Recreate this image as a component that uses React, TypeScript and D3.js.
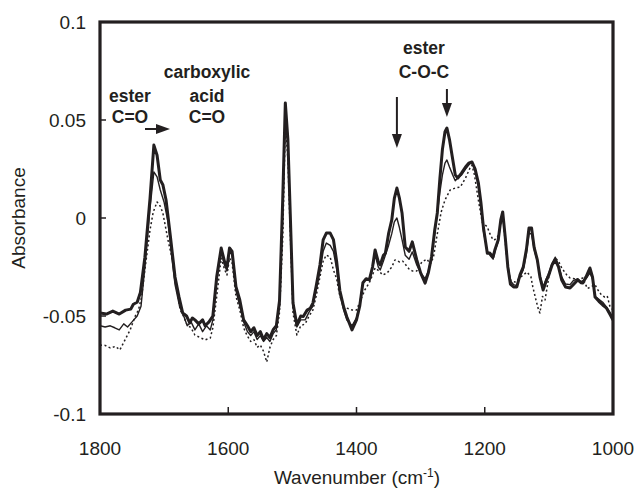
import React from "react";
import * as d3 from "d3";

const xTicks = [1800, 1600, 1400, 1200, 1000];
const yTicks = [0.1, 0.05, 0, -0.05, -0.1];
const yTickLabels = ["0.1", "0.05", "0", "-0.05", "-0.1"];

const seriesThick: [number, number][] = [[1800,-0.0485],[1790,-0.049],[1780,-0.0475],[1770,-0.049],[1760,-0.047],[1752,-0.0465],[1748,-0.044],[1742,-0.043],[1737,-0.038],[1730,-0.02],[1722,0.01],[1716,0.0372],[1711,0.032],[1706,0.0194],[1702,0.017],[1697,0.0092],[1690,-0.01],[1683,-0.0301],[1677,-0.04],[1671,-0.0485],[1665,-0.05],[1660,-0.0535],[1656,-0.051],[1652,-0.052],[1646,-0.054],[1640,-0.052],[1636,-0.055],[1630,-0.053],[1624,-0.05],[1618,-0.03],[1611,-0.0153],[1606,-0.022],[1602,-0.025],[1598,-0.0153],[1594,-0.017],[1588,-0.035],[1582,-0.0418],[1576,-0.052],[1570,-0.055],[1565,-0.058],[1560,-0.056],[1555,-0.06],[1550,-0.058],[1545,-0.062],[1540,-0.059],[1535,-0.061],[1530,-0.057],[1525,-0.055],[1520,-0.042],[1515,0.01],[1511,0.0587],[1507,0.04],[1503,-0.001],[1499,-0.0434],[1493,-0.0546],[1487,-0.05],[1483,-0.0503],[1477,-0.047],[1472,-0.046],[1468,-0.0434],[1463,-0.035],[1457,-0.024],[1452,-0.0112],[1447,-0.0077],[1441,-0.0077],[1436,-0.011],[1431,-0.022],[1426,-0.037],[1420,-0.0454],[1415,-0.0505],[1407,-0.0571],[1400,-0.052],[1395,-0.045],[1390,-0.033],[1385,-0.031],[1380,-0.0316],[1375,-0.025],[1371,-0.0163],[1366,-0.0224],[1363,-0.024],[1358,-0.019],[1355,-0.018],[1350,-0.008],[1345,-0.001],[1341,0.01],[1337,0.0153],[1333,0.01],[1329,0.0026],[1324,-0.0148],[1318,-0.017],[1313,-0.0122],[1306,-0.0214],[1300,-0.028],[1293,-0.0332],[1288,-0.028],[1283,-0.0199],[1278,-0.0061],[1274,0.0026],[1270,0.02],[1266,0.035],[1262,0.044],[1259,0.0459],[1255,0.04],[1250,0.03],[1246,0.022],[1242,0.0204],[1236,0.023],[1230,0.026],[1225,0.028],[1220,0.0286],[1215,0.025],[1210,0.018],[1206,0.008],[1202,-0.005],[1196,-0.018],[1192,-0.0179],[1187,-0.0199],[1184,-0.016],[1179,-0.0112],[1175,-0.001],[1172,0.0031],[1168,-0.01],[1164,-0.025],[1160,-0.0337],[1155,-0.0352],[1150,-0.0352],[1145,-0.029],[1140,-0.0251],[1135,-0.016],[1131,-0.0051],[1127,-0.0051],[1123,-0.015],[1118,-0.0214],[1114,-0.03],[1109,-0.0367],[1104,-0.032],[1100,-0.029],[1095,-0.024],[1090,-0.0214],[1085,-0.025],[1080,-0.0316],[1074,-0.0352],[1067,-0.0357],[1062,-0.034],[1055,-0.0316],[1050,-0.033],[1047,-0.0332],[1042,-0.03],[1036,-0.0255],[1032,-0.03],[1028,-0.0403],[1022,-0.0425],[1016,-0.0444],[1010,-0.046],[1005,-0.049],[1000,-0.052]];

const seriesThin: [number, number][] = [[1800,-0.055],[1792,-0.0556],[1784,-0.055],[1777,-0.056],[1770,-0.0571],[1763,-0.054],[1757,-0.0556],[1750,-0.053],[1742,-0.05],[1736,-0.045],[1730,-0.025],[1722,0.005],[1716,0.0235],[1711,0.021],[1706,0.0143],[1700,0.008],[1694,-0.002],[1688,-0.02],[1683,-0.034],[1676,-0.045],[1670,-0.0495],[1664,-0.055],[1658,-0.053],[1652,-0.0571],[1646,-0.054],[1640,-0.058],[1634,-0.055],[1628,-0.0571],[1624,-0.052],[1618,-0.032],[1611,-0.017],[1606,-0.024],[1602,-0.027],[1598,-0.017],[1594,-0.019],[1588,-0.037],[1582,-0.045],[1576,-0.053],[1570,-0.058],[1565,-0.06],[1560,-0.058],[1555,-0.062],[1550,-0.06],[1545,-0.063],[1540,-0.061],[1535,-0.063],[1530,-0.059],[1525,-0.057],[1520,-0.045],[1515,0.0],[1511,0.054],[1507,0.036],[1503,-0.005],[1499,-0.045],[1493,-0.0556],[1487,-0.052],[1480,-0.052],[1474,-0.048],[1468,-0.045],[1463,-0.037],[1457,-0.0273],[1452,-0.017],[1447,-0.0128],[1441,-0.014],[1436,-0.017],[1431,-0.026],[1426,-0.039],[1420,-0.047],[1415,-0.052],[1407,-0.055],[1400,-0.051],[1395,-0.044],[1390,-0.033],[1385,-0.031],[1380,-0.031],[1375,-0.026],[1371,-0.0189],[1366,-0.025],[1363,-0.0265],[1358,-0.022],[1350,-0.014],[1345,-0.008],[1341,-0.002],[1337,0.0],[1333,-0.005],[1329,-0.011],[1324,-0.019],[1318,-0.021],[1313,-0.0173],[1306,-0.024],[1300,-0.028],[1293,-0.031],[1288,-0.027],[1283,-0.02],[1278,-0.008],[1274,0.002],[1270,0.013],[1266,0.022],[1262,0.028],[1259,0.0296],[1255,0.026],[1250,0.022],[1246,0.019],[1242,0.0204],[1236,0.022],[1230,0.025],[1225,0.027],[1220,0.0286],[1215,0.024],[1210,0.016],[1206,0.005],[1202,-0.007],[1196,-0.017],[1192,-0.019],[1187,-0.021],[1184,-0.017],[1179,-0.012],[1175,-0.002],[1172,0.002],[1168,-0.01],[1164,-0.024],[1160,-0.032],[1155,-0.034],[1150,-0.0345],[1145,-0.03],[1140,-0.0265],[1135,-0.018],[1131,-0.008],[1127,-0.008],[1123,-0.016],[1118,-0.022],[1114,-0.029],[1109,-0.0352],[1104,-0.031],[1100,-0.028],[1095,-0.023],[1090,-0.02],[1085,-0.024],[1080,-0.03],[1074,-0.0337],[1067,-0.034],[1062,-0.032],[1055,-0.031],[1050,-0.0325],[1047,-0.032],[1042,-0.031],[1036,-0.028],[1032,-0.031],[1028,-0.04],[1022,-0.0415],[1016,-0.043],[1010,-0.0455],[1005,-0.048],[1000,-0.051]];

const seriesDotted: [number, number][] = [[1800,-0.0648],[1792,-0.065],[1784,-0.0663],[1776,-0.0655],[1769,-0.0673],[1761,-0.0622],[1753,-0.0571],[1745,-0.05],[1740,-0.0469],[1735,-0.04],[1730,-0.0265],[1722,-0.0061],[1717,0.003],[1711,0.0082],[1706,0.006],[1702,0.0026],[1694,-0.0112],[1688,-0.02],[1683,-0.0291],[1675,-0.0469],[1670,-0.05],[1664,-0.0546],[1658,-0.056],[1652,-0.0597],[1644,-0.061],[1636,-0.0622],[1628,-0.0612],[1624,-0.056],[1618,-0.04],[1611,-0.0204],[1606,-0.026],[1602,-0.0291],[1598,-0.0204],[1594,-0.023],[1588,-0.04],[1582,-0.0469],[1576,-0.056],[1571,-0.0597],[1565,-0.063],[1560,-0.062],[1555,-0.066],[1550,-0.0648],[1545,-0.068],[1540,-0.0735],[1535,-0.066],[1530,-0.062],[1525,-0.06],[1520,-0.048],[1515,-0.01],[1511,0.048],[1507,0.03],[1503,-0.01],[1499,-0.0485],[1493,-0.0597],[1487,-0.055],[1480,-0.054],[1474,-0.05],[1468,-0.047],[1463,-0.04],[1457,-0.03],[1452,-0.022],[1447,-0.0189],[1441,-0.02],[1436,-0.0265],[1431,-0.031],[1426,-0.04],[1420,-0.045],[1415,-0.046],[1407,-0.0469],[1400,-0.047],[1395,-0.043],[1387,-0.0367],[1380,-0.033],[1375,-0.0291],[1371,-0.0255],[1365,-0.027],[1359,-0.0291],[1352,-0.028],[1345,-0.025],[1340,-0.0214],[1333,-0.0224],[1328,-0.022],[1323,-0.024],[1317,-0.0265],[1313,-0.027],[1306,-0.027],[1298,-0.0224],[1290,-0.021],[1285,-0.0235],[1280,-0.02],[1275,-0.01],[1268,0.003],[1262,0.0092],[1254,0.0143],[1246,0.0153],[1238,0.0158],[1230,0.0204],[1223,0.0255],[1220,0.027],[1216,0.0219],[1210,0.0092],[1204,-0.002],[1196,-0.0046],[1192,-0.008],[1187,-0.0112],[1184,-0.011],[1179,-0.009],[1175,-0.003],[1172,0.001],[1168,-0.012],[1164,-0.026],[1160,-0.0316],[1153,-0.0327],[1147,-0.031],[1140,-0.0291],[1134,-0.0276],[1128,-0.03],[1125,-0.0352],[1120,-0.042],[1116,-0.047],[1114,-0.0485],[1110,-0.04],[1106,-0.0418],[1100,-0.03],[1095,-0.024],[1090,-0.0204],[1085,-0.022],[1080,-0.0255],[1072,-0.0291],[1067,-0.0306],[1060,-0.031],[1055,-0.0316],[1047,-0.0306],[1040,-0.036],[1035,-0.0352],[1028,-0.034],[1025,-0.036],[1018,-0.0393],[1013,-0.0403],[1009,-0.0398],[1005,-0.0449],[1000,-0.047]];

const W = 642, H = 490;
const L = 100, R = 613, T = 22, B = 414;
const INK = "#231f20";
const FONT = "'Liberation Sans', Arial, Helvetica, sans-serif";

export default function App() {
  const x = d3.scaleLinear().domain([1800, 1000]).range([L, R]);
  const y = d3.scaleLinear().domain([-0.1, 0.1]).range([B, T]);
  const line = d3.line<[number, number]>().x(d => x(d[0])).y(d => y(d[1]));

  const arrowDown = (wn: number, y0: number, y1: number) => {
    const px = x(wn);
    return (
      <g>
        <line x1={px} x2={px} y1={y0} y2={y1 - 12} stroke={INK} strokeWidth={2} />
        <path d={`M${px - 5},${y1 - 14} L${px + 5},${y1 - 14} L${px},${y1} Z`} fill={INK} />
      </g>
    );
  };

  return (
    <svg width={W} height={H} style={{ position: "absolute", left: 0, top: 0, background: "#fff" }}>
      <defs>
        <clipPath id="plot">
          <rect x={L} y={T} width={R - L} height={B - T} />
        </clipPath>
      </defs>
      <g clipPath="url(#plot)" fill="none" strokeLinejoin="round">
        <path d={line(seriesDotted) || ""} stroke={INK} strokeWidth={1.5} strokeDasharray="2,2.5" />
        <path d={line(seriesThin) || ""} stroke={INK} strokeWidth={1.4} />
        <path d={line(seriesThick) || ""} stroke={INK} strokeWidth={3} />
      </g>
      <rect x={L} y={T} width={R - L} height={B - T} fill="none" stroke={INK} strokeWidth={3.2} />
      {yTicks.slice(1, 4).map(t => (
        <line key={"yt" + t} x1={L} x2={L + 6} y1={y(t)} y2={y(t)} stroke={INK} strokeWidth={1.5} />
      ))}
      {xTicks.slice(1, 4).map(t => (
        <line key={"xt" + t} x1={x(t)} x2={x(t)} y1={B} y2={B - 7} stroke={INK} strokeWidth={1.5} />
      ))}
      {yTicks.map((t, i) => (
        <text key={"yl" + t} x={L - 14} y={y(t)} dy="0.35em" textAnchor="end" fontFamily={FONT} fontSize={19} fill={INK}>
          {yTickLabels[i]}
        </text>
      ))}
      {xTicks.map(t => (
        <text key={"xl" + t} x={x(t)} y={455} textAnchor="middle" fontFamily={FONT} fontSize={19} fill={INK}>
          {t}
        </text>
      ))}
      <text x={357} y={484} textAnchor="middle" fontFamily={FONT} fontSize={19} fill={INK}>
        Wavenumber (cm<tspan dy={-7} fontSize={12}>-1</tspan><tspan dy={7}>)</tspan>
      </text>
      <text transform={`translate(25,${(T + B) / 2}) rotate(-90)`} textAnchor="middle" fontFamily={FONT} fontSize={19} fill={INK}>
        Absorbance
      </text>
      <g fontFamily={FONT} fontWeight="bold" fontSize={17.5} fill={INK} textAnchor="middle">
        <text x={130} y={102}>ester</text>
        <text x={130} y={123}>C=O</text>
        <text x={207} y={78}>carboxylic</text>
        <text x={207} y={102}>acid</text>
        <text x={207} y={123}>C=O</text>
        <text x={424} y={54}>ester</text>
        <text x={424} y={78}>C-O-C</text>
      </g>
      <g>
        <line x1={145} x2={158} y1={129} y2={129} stroke={INK} strokeWidth={2} />
        <path d="M156,124 L156,134 L170,129 Z" fill={INK} />
      </g>
      {arrowDown(1337, 97, 148)}
      {arrowDown(1259, 89, 117)}
    </svg>
  );
}
